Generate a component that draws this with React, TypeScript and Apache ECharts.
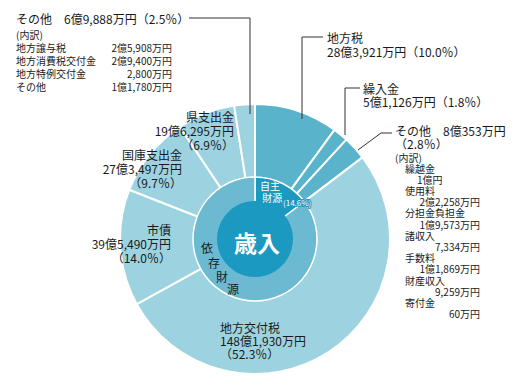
import React, { useEffect, useRef } from "react";
import * as echarts from "echarts";

// ---- data (万円) ----
const outerNames = ["地方税", "繰入金", "その他", "地方交付税", "市債", "国庫支出金", "県支出金", "その他"];
const outerValues = [283921, 51126, 80353, 1481930, 395490, 273497, 196295, 69888];
const outerPercents = ["10.0", "1.8", "2.8", "52.3", "14.0", "9.7", "6.9", "2.5"];
const outerGroups = ["自主", "自主", "自主", "依存", "依存", "依存", "依存", "依存"];

const middleNames = ["自主財源", "依存財源"];
const middleValues = [415400, 2417100];
const middlePercent = "14.6";

const depOtherNames = ["地方譲与税", "地方消費税交付金", "地方特例交付金", "その他"];
const depOtherValues = [25908, 29400, 2800, 11780];

const ownOtherNames = ["繰越金", "使用料", "分担金負担金", "諸収入", "手数料", "財産収入", "寄付金"];
const ownOtherValues = [10000, 22258, 19573, 7334, 11869, 9259, 60];

const centerTitle = "歳入";
const breakdownTitle = "(内訳)";

// ---- helpers ----
const FONT = '"Noto Sans CJK JP", "Noto Sans", sans-serif';
function fmt(v: number): string {
  const oku = Math.floor(v / 10000);
  const man = v % 10000;
  if (oku === 0) return `${man.toLocaleString("en-US")}万円`;
  if (man === 0) return `${oku}億円`;
  return `${oku}億${man.toLocaleString("en-US")}万円`;
}
const pct = (p: string) => `（${p}％）`;
const font = (size: number, weight = "normal") => `${weight} ${size}px ${FONT}`;

// multi-line text block; y = centre of the first line
function block(lines: string[], x: number, y: number, o: any = {}) {
  const lh = o.lh || 13;
  return {
    type: "text",
    x,
    y: y - lh / 2,
    silent: true,
    z: 10,
    style: {
      text: lines.join("\n"),
      fill: o.fill || "#1a1a1a",
      font: font(o.size || 12, o.weight),
      lineHeight: lh,
      textAlign: o.align || "left",
      textVerticalAlign: "top",
      stroke: o.stroke,
      lineWidth: o.strokeWidth || 0,
      rich: o.rich,
    },
  };
}
function line(points: number[][]) {
  return {
    type: "polyline",
    silent: true,
    z: 10,
    shape: { points },
    style: { stroke: "#333", lineWidth: 1, fill: null },
  };
}

const CX = 255;
const CY = 239;
const OWN_OUTER = "#58b3cb";
const DEP_OUTER = "#9dd3e0";
const OWN_MID = "#1c99c1";
const DEP_MID = "#6cbad2";

export default function App() {
  const ref = useRef<HTMLDivElement>(null);
  useEffect(() => {
    if (!ref.current) return;
    const chart = echarts.init(ref.current, null, { renderer: "svg" });

    const g: any[] = [];
    // top-left その他 (依存)
    g.push(block([`${outerNames[7]}　${fmt(outerValues[7])}${pct(outerPercents[7])}`], 16, 18));
    g.push(block([breakdownTitle, ...depOtherNames], 16, 34, { size: 10, lh: 13 }));
    g.push(block(depOtherValues.map(fmt), 172, 47, { size: 10, lh: 13, align: "right" }));
    g.push(line([[189, 18], [250, 18], [250, 114]]));

    // 地方税
    g.push(block([outerNames[0], `${fmt(outerValues[0])}${pct(outerPercents[0])}`], 327, 37, { lh: 14 }));
    g.push(line([[323, 37], [302, 37], [302, 119]]));
    // 繰入金
    g.push(block([outerNames[1], `${fmt(outerValues[1])}${pct(outerPercents[1])}`], 363, 88, { lh: 13 }));
    g.push(line([[360, 88], [345, 88], [345, 135]]));
    // その他 (自主)
    g.push(block([`${outerNames[2]}　${fmt(outerValues[2])}`, pct(outerPercents[2])], 395, 130, { lh: 13 }));
    g.push(line([[392, 133], [381, 133], [358, 150]]));
    const richLines = [`{h|${breakdownTitle}}`];
    ownOtherNames.forEach((n, i) => {
      const v = ownOtherValues[i];
      richLines.push(`{n|${n}}`);
      richLines.push(v % 10000 === 0 ? `{s|${fmt(v)}}` : `{v|${fmt(v)}}`);
    });
    g.push(
      block(richLines, 395, 157, {
        size: 10,
        lh: 11.2,
        rich: {
          h: { font: font(10), lineHeight: 11.2, fill: "#1a1a1a" },
          n: { font: font(10), lineHeight: 11.2, padding: [0, 0, 0, 10], fill: "#1a1a1a" },
          s: { font: font(10), lineHeight: 11.2, padding: [0, 0, 0, 22], fill: "#1a1a1a" },
          v: { font: font(10), lineHeight: 11.2, width: 85, align: "right", fill: "#1a1a1a" },
        },
      })
    );

    // 地方交付税
    g.push(block([outerNames[3], fmt(outerValues[3]), pct(outerPercents[3])], 220, 327, { lh: 13 }));
    // 市債
    g.push(block([outerNames[4], fmt(outerValues[4]), pct(outerPercents[4])], 171, 229, { lh: 14, align: "right" }));
    // 国庫支出金
    g.push(block([outerNames[5], fmt(outerValues[5]), pct(outerPercents[5])], 182, 154, { lh: 14, align: "right" }));
    // 県支出金
    g.push(block([outerNames[6], fmt(outerValues[6]), pct(outerPercents[6])], 234, 116, { lh: 14, align: "right" }));

    // middle ring labels
    const own = middleNames[0];
    g.push(block([own.slice(0, 2), " " + own.slice(2)], 260, 185, { size: 10, lh: 12, fill: "#fff" }));
    g.push(
      block([`(${middlePercent}%)`], 283, 202, { size: 8, lh: 9, fill: "#fff", stroke: OWN_MID, strokeWidth: 2 })
    );
    const dep = middleNames[1].split("");
    const depPos = [[207, 247], [214, 262], [222, 276], [233, 288]];
    dep.forEach((c, i) => g.push(block([c], depPos[i][0], depPos[i][1], { align: "center", lh: 12 })));

    // center title
    g.push(block([centerTitle], 257, 242, { size: 23, weight: "bold", fill: "#fff", align: "center", lh: 26 }));

    const common = {
      type: "pie",
      center: [CX, CY],
      startAngle: 90,
      clockwise: true,
      silent: true,
      label: { show: false },
      labelLine: { show: false },
      emphasis: { disabled: true },
    };

    chart.setOption({
      animation: false,
      backgroundColor: "#fff",
      series: [
        {
          ...common,
          radius: [61, 135],
          itemStyle: { borderColor: "#fff", borderWidth: 2 },
          data: outerNames.map((n, i) => ({
            name: n + i,
            value: outerValues[i],
            itemStyle: { color: outerGroups[i] === "自主" ? OWN_OUTER : DEP_OUTER },
          })),
        },
        {
          ...common,
          radius: [36, 62],
          itemStyle: { borderColor: "#fff", borderWidth: 1.5 },
          data: middleNames.map((n, i) => ({
            name: n,
            value: middleValues[i],
            itemStyle: { color: i === 0 ? OWN_MID : DEP_MID },
          })),
        },
        {
          ...common,
          radius: [0, 38],
          data: [{ name: centerTitle, value: middleValues[0] + middleValues[1], itemStyle: { color: OWN_MID } }],
        },
      ],
      graphic: g,
    });
    return () => chart.dispose();
  }, []);
  return (
    <div
      ref={ref}
      style={{ position: "fixed", left: 0, top: 0, width: 520, height: 390, background: "#fff" }}
    />
  );
}
